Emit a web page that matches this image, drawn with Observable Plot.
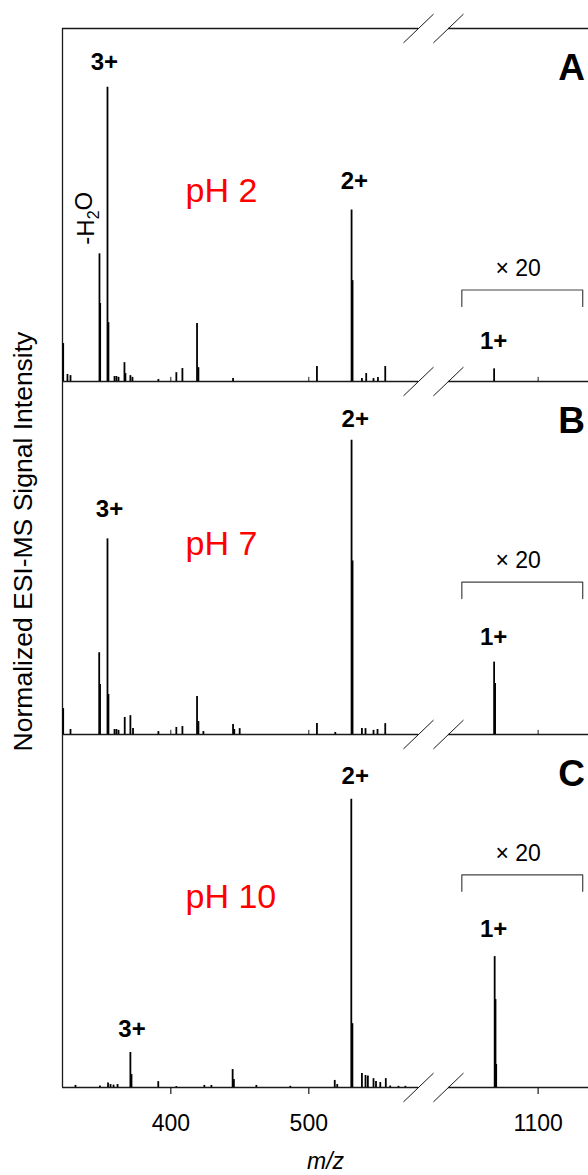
<!DOCTYPE html>
<html>
<head>
<meta charset="utf-8">
<script src="https://cdn.jsdelivr.net/npm/d3@7"></script>
<script src="https://cdn.jsdelivr.net/npm/@observablehq/plot@0.6"></script>
<style>
  html, body { margin: 0; padding: 0; background: #fff; }
  #chart { width: 588px; height: 1175px; overflow: hidden; }
</style>
</head>
<body>
<div id="chart"></div>
<script>
// ---------------- data ----------------
const panels = ["A", "B", "C"];
const phLabels = ["pH 2", "pH 7", "pH 10"];

// peaks (m/z, normalized intensity) — right segment (>1000) is shown ×20
const mzA  = [322.0, 325.1, 327.3, 348.3, 348.8, 354.1, 354.8, 359.2, 360.6, 362.1, 366.4, 367.1, 370.7, 372.2, 391.0, 404.0, 408.4, 419.0, 420.0, 445.1, 505.9, 531.0, 531.7, 538.5, 541.6, 546.9, 550.1, 555.4, 1068.1];
const intA = [12.9,  2.4,   2.0,   43.4,  26.5,  100,   20.0,  1.7,   1.7,   1.4,   6.4,   2.7,   2.0,   1.4,   0.7,   3.0,   4.4,   19.7,  4.7,   1.0,   5.1,   58.3,  34.3,  1.0,   2.7,   1.0,   1.4,   5.1,   4.3];

const mzB  = [322.0, 327.3, 348.1, 348.7, 354.1, 354.8, 359.2, 360.6, 362.1, 366.6, 370.7, 372.6, 391.0, 404.0, 408.4, 419.0, 420.0, 423.6, 445.1, 446.0, 449.9, 505.9, 519.2, 531.0, 531.7, 538.5, 541.1, 546.9, 549.8, 555.4, 1068.1, 1068.8];
const intB = [8.8,   1.7,   27.8,  17.0,  66.5,  13.6,  1.7,   1.7,   1.4,   5.8,   6.4,   2.0,   1.0,   2.4,   2.7,   12.9,  4.4,   1.0,   3.4,   1.7,   2.0,   3.7,   0.7,   100,   59.0,  2.0,   2.0,   1.4,   1.7,   3.7,   24.6,   17.3];

const mzC  = [330.9, 348.6, 354.5, 356.3, 358.5, 361.4, 370.7, 371.5, 390.9, 404.0, 424.3, 429.4, 444.8, 445.7, 462.0, 486.6, 518.8, 520.6, 530.8, 531.6, 538.5, 541.1, 542.8, 546.9, 548.7, 551.8, 555.8, 559.0, 565.0, 570.0, 1068.5, 1069.1, 1069.6];
const intC = [0.7,   0.5,   1.5,   1.0,   0.8,   1.0,   11.9,  4.4,   2.0,   0.3,   0.7,   0.7,   6.1,   2.7,   0.7,   0.4,   2.4,   1.0,   98.0,  21.7,  4.8,   4.1,   3.9,   3.0,   2.0,   1.7,   3.0,   0.5,   0.4,   0.4,   44.5,   29.9,   7.8];

// charge-state annotations
const chargeText  = ["3+", "2+", "1+", "3+", "2+", "1+", "3+", "2+", "1+"];
const chargePanel = ["A", "A", "A", "B", "B", "B", "C", "C", "C"];
const chargeMz    = [351.9, 533.0, 1067.7, 355.6, 533.7, 1067.7, 371.9, 533.7, 1067.7];
const chargeY     = [106.0, 65.3, 11.1, 74.1, 104.4, 30.3, 17.1, 103.2, 51.3];

// water-loss annotation (panel A)
const lossText = ["-H2O"];
const lossPanel = ["A"];
const lossMz = [344.6];
const lossY = [55.5];

// ×20 magnification brackets
const magText = "× 20";
const magRange = [1044.7, 1132.3];
const magLabelMz = 1085.5;
const magLevel = [31.1, 51.8, 72.3];

// axis
const xTicks = [400, 500, 1100];
const leftRange = [321.5, 579.5];     // m/z shown in left segment
const rightRange = [1035, 1136.5];    // m/z shown in right segment
const SHIFT = 433.8;                  // axis-break offset
const yMax = 120;

// ---------------- helpers ----------------
const vx = mz => mz > 800 ? mz - SHIFT : mz;
const peaks = [
  ...mzA.map((m, i) => ({panel: "A", mz: m, v: intA[i]})),
  ...mzB.map((m, i) => ({panel: "B", mz: m, v: intB[i]})),
  ...mzC.map((m, i) => ({panel: "C", mz: m, v: intC[i]}))
];
const charges = chargeText.map((t, i) => ({panel: chargePanel[i], text: t, mz: chargeMz[i], y: chargeY[i]}));
const losses = lossText.map((t, i) => ({panel: lossPanel[i], text: t, mz: lossMz[i], y: lossY[i]}));
const segs = [leftRange, rightRange];
const axisLines = [];
panels.forEach(p => segs.forEach(s => axisLines.push({panel: p, x1: vx(s[0]), x2: vx(s[1]), y: 0})));
segs.forEach(s => axisLines.push({panel: "A", x1: vx(s[0]), x2: vx(s[1]), y: yMax}));
const slashes = [];
const breaks = [vx(leftRange[1]), vx(rightRange[0])];
panels.forEach(p => breaks.forEach(b => slashes.push({panel: p, x: b, level: 0})));
breaks.forEach(b => slashes.push({panel: "A", x: b, level: yMax}));
const innerTicks = [];
["A", "B"].forEach(p => xTicks.forEach(t => innerTicks.push({panel: p, x: vx(t)})));
const brackets = [];
panels.forEach((p, i) => {
  const L = magLevel[i];
  [[magRange[0], L - 5.6], [magRange[0], L], [magRange[1], L], [magRange[1], L - 5.6]]
    .forEach(([m, y]) => brackets.push({panel: p, x: vx(m), y}));
});
const magLabels = panels.map((p, i) => ({panel: p, x: vx(magLabelMz), y: magLevel[i]}));

const FONT = "'Liberation Sans', Arial, Helvetica, sans-serif";
const INK = "#1a1a1a";

const chart = Plot.plot({
  width: 588,
  height: 1175,
  marginLeft: 62,
  marginRight: 0,
  marginTop: 27,
  marginBottom: 87,
  style: {fontFamily: FONT, fontSize: "23px", background: "#fff", color: "#000"},
  x: {domain: [vx(leftRange[0]), vx(rightRange[1])]},
  y: {domain: [0, yMax], axis: null},
  fy: {domain: panels, padding: 0, axis: null},
  marks: [
    // frame: left edge
    Plot.ruleX(panels, {fy: d => d, x: vx(leftRange[0]), y1: 0, y2: yMax, stroke: INK, strokeWidth: 1.3}),
    // baselines and top line, split at the axis break
    Plot.ruleY(axisLines, {fy: "panel", y: "y", x1: "x1", x2: "x2", stroke: INK, strokeWidth: 1.3}),
    // break marks
    Plot.link(slashes, {fy: "panel", x1: d => d.x - 10.9, x2: d => d.x + 10.9, y1: d => d.level - 4.9, y2: d => d.level + 4.9, stroke: INK, strokeWidth: 1}),
    // inner ticks on upper panels
    Plot.ruleX(innerTicks, {fy: "panel", x: "x", y1: 0, y2: 1.4, stroke: INK, strokeWidth: 1}),
    // spectra
    Plot.ruleX(peaks, {fy: "panel", x: d => vx(d.mz), y1: 0, y2: "v", stroke: "#000", strokeWidth: 1.8}),
    // ×20 bracket
    Plot.line(brackets, {fy: "panel", x: "x", y: "y", z: "panel", stroke: "#444", strokeWidth: 1.2}),
    Plot.text(magLabels, {fy: "panel", x: "x", y: "y", text: () => magText, dy: -14, lineAnchor: "bottom", textAnchor: "middle", fontSize: 23, fill: "#000"}),
    // charge labels
    Plot.text(charges, {fy: "panel", x: d => vx(d.mz), y: "y", text: "text", lineAnchor: "bottom", textAnchor: "middle", fontWeight: "bold", fontSize: 24}),
    // water loss
    Plot.text(losses, {fy: "panel", x: d => vx(d.mz), y: "y", text: "text", rotate: -90, lineAnchor: "bottom", textAnchor: "middle", fontSize: 24}),
    // pH labels
    Plot.text(panels, {fy: d => d, text: (d, i) => phLabels[i], frameAnchor: "top-left", dx: 123, dy: 173, textAnchor: "start", lineAnchor: "bottom", fill: "#ff0000", fontSize: 34}),
    // panel letters
    Plot.text(panels, {fy: d => d, text: d => d, frameAnchor: "top-right", dx: -17, dy: 51, textAnchor: "middle", lineAnchor: "bottom", fontWeight: "bold", fontSize: 37}),
    // x axis (bottom panel only)
    Plot.axisX({
      ticks: xTicks.map(vx),
      tickFormat: d => d > 600 ? String(Math.round(d + SHIFT)) : String(d),
      tickSize: 7, tickPadding: 20, fontSize: 23, label: null,
      facetAnchor: "bottom", stroke: INK, strokeWidth: 1.2
    }),
    // axis titles
    Plot.text(["m/z"], {fy: () => "C", text: d => d, frameAnchor: "bottom", dy: 81, lineAnchor: "bottom", textAnchor: "middle", fontStyle: "italic", fontSize: 23}),
    Plot.text(["Normalized ESI-MS Signal Intensity"], {fy: () => "B", text: d => d, frameAnchor: "left", dx: -39, dy: -16.5, rotate: -90, textAnchor: "middle", lineAnchor: "middle", fontSize: 26.5})
  ]
});

// subscript the 2 in H2O
chart.querySelectorAll("text").forEach(t => {
  if (t.textContent === "-H2O") {
    t.textContent = "";
    const ns = "http://www.w3.org/2000/svg";
    const a = document.createElementNS(ns, "tspan"); a.textContent = "-H";
    const b = document.createElementNS(ns, "tspan"); b.textContent = "2"; b.setAttribute("dy", "0.3em"); b.setAttribute("font-size", "16");
    const c = document.createElementNS(ns, "tspan"); c.textContent = "O"; c.setAttribute("dy", "-0.3em");
    t.append(a, b, c);
  }
});

document.getElementById("chart").append(chart);
</script>
</body>
</html>
